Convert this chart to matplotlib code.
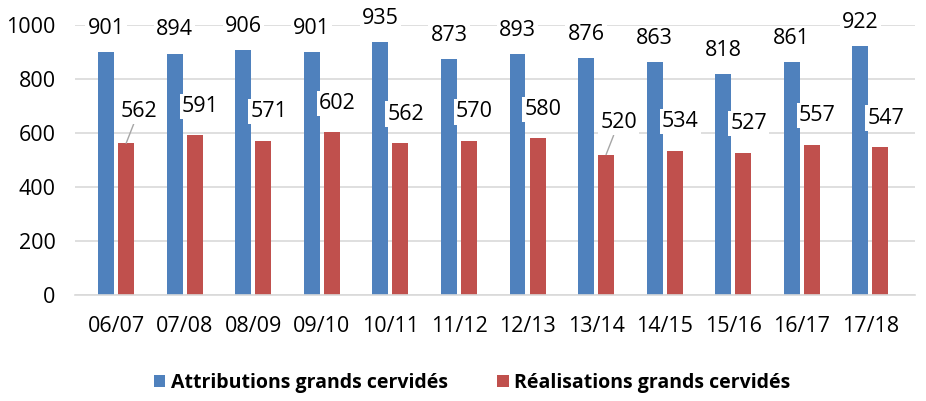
import matplotlib.pyplot as plt
import numpy as np

saisons = ["06/07", "07/08", "08/09", "09/10", "10/11", "11/12",
           "12/13", "13/14", "14/15", "15/16", "16/17", "17/18"]
attributions = [901, 894, 906, 901, 935, 873, 893, 876, 863, 818, 861, 922]
realisations = [562, 591, 571, 602, 562, 570, 580, 520, 534, 527, 557, 547]

plt.rcParams['font.family'] = ['Open Sans', 'DejaVu Sans']

fig = plt.figure(figsize=(9.26, 4.01), dpi=100)
ax = fig.add_axes([0.081, 0.264, 0.907, 0.674])

x = np.arange(len(saisons))
w = 0.233
off = 0.146
bleu = "#4F81BD"
rouge = "#C0504D"

b1 = ax.bar(x - off, attributions, w, color=bleu, zorder=2, label="Attributions grands cervidés")
b2 = ax.bar(x + off, realisations, w, color=rouge, zorder=2, label="Réalisations grands cervidés")

box = dict(boxstyle="square,pad=0.1", fc="white", ec="none")
for xi, v in zip(x, attributions):
    ax.annotate(str(v), (xi - off, v), xytext=(0, 17), textcoords="offset points",
                ha="center", va="center", fontsize=15.5, bbox=box, zorder=4,
                annotation_clip=False)

for i, (xi, v) in enumerate(zip(x, realisations)):
    if i in (0, 7):
        ax.annotate(str(v), (xi + off, v), xytext=(9, 23), textcoords="offset points",
                    ha="center", va="center", fontsize=15.5, bbox=box, zorder=4,
                    arrowprops=dict(arrowstyle="-", color="#A6A6A6", lw=1,
                                    shrinkA=0, shrinkB=0))
    else:
        ax.annotate(str(v), (xi + off, v), xytext=(4, 21), textcoords="offset points",
                    ha="center", va="center", fontsize=15.5, bbox=box, zorder=4)

ax.set_xlim(-0.6, 11.65)
ax.set_ylim(0, 1000)
ax.set_yticks(range(0, 1001, 200))
ax.set_xticks(x)
ax.set_xticklabels(saisons)
ax.tick_params(axis="both", length=0, labelsize=15.5, colors="black")
ax.tick_params(axis="x", pad=15)
ax.tick_params(axis="y", pad=14)
ax.grid(axis="y", color="#D9D9D9", lw=1.2, zorder=0)
ax.set_axisbelow(True)
for s in ["top", "right", "left"]:
    ax.spines[s].set_visible(False)
ax.spines["bottom"].set_color("#D9D9D9")
ax.spines["bottom"].set_linewidth(1.2)

leg = fig.legend(handles=[b1, b2], loc="center", bbox_to_anchor=(0.51, 0.045), ncol=2,
                 frameon=False, handlelength=0.6, handleheight=0.6,
                 handletextpad=0.3, columnspacing=2.5, prop={"weight": "bold", "size": 14})

fig.savefig("out.png", dpi=100)
